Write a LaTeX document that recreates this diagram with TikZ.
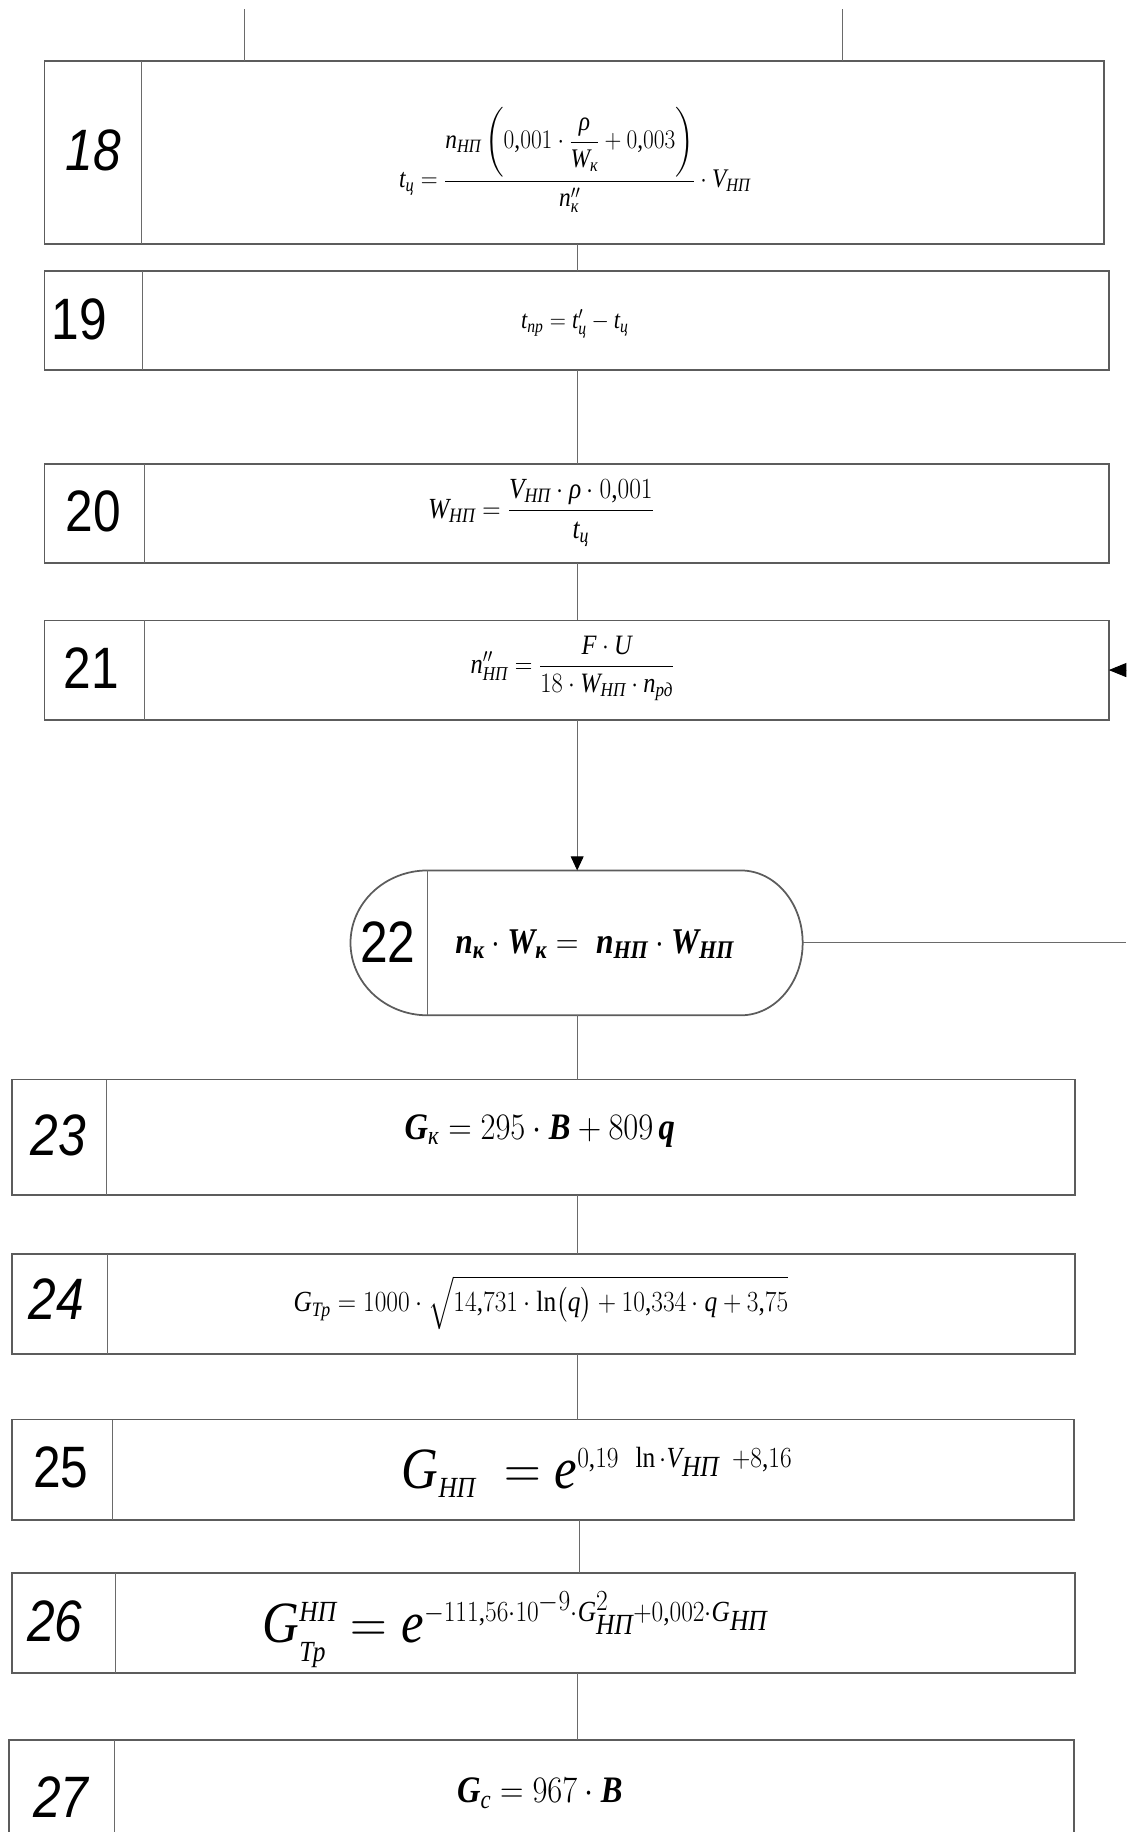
\RequirePackage{fix-cm}
\documentclass[tikz,border=0pt]{standalone}
\usepackage{amsmath}
\usepackage{graphicx}
\usepackage{fontspec}
\setmainfont{Liberation Serif}
\setsansfont{Liberation Sans}
\DeclareSymbolFont{lsrm}{TU}{\rmdefault}{m}{n}
\DeclareMathAlphabet{\mathit}{TU}{\rmdefault}{m}{it}
\DeclareMathSymbol{0}{\mathalpha}{lsrm}{`0}
\DeclareMathSymbol{1}{\mathalpha}{lsrm}{`1}
\DeclareMathSymbol{2}{\mathalpha}{lsrm}{`2}
\DeclareMathSymbol{3}{\mathalpha}{lsrm}{`3}
\DeclareMathSymbol{4}{\mathalpha}{lsrm}{`4}
\DeclareMathSymbol{5}{\mathalpha}{lsrm}{`5}
\DeclareMathSymbol{6}{\mathalpha}{lsrm}{`6}
\DeclareMathSymbol{7}{\mathalpha}{lsrm}{`7}
\DeclareMathSymbol{8}{\mathalpha}{lsrm}{`8}
\DeclareMathSymbol{9}{\mathalpha}{lsrm}{`9}
\DeclareMathSymbol{,}{\mathpunct}{lsrm}{`,}
\DeclareMathSymbol{=}{\mathrel}{lsrm}{`=}
\DeclareMathSymbol{+}{\mathbin}{lsrm}{`+}
\DeclareMathSymbol{(}{\mathopen}{lsrm}{`(}
\DeclareMathSymbol{)}{\mathclose}{lsrm}{`)}
\usetikzlibrary{arrows.meta}
\definecolor{bsFrame}{HTML}{5C5C5C}
\definecolor{bsLine}{HTML}{6A6A6A}
\newcommand{\itx}[1]{\text{\itshape #1}}
\newcommand{\bitx}[1]{\text{\bfseries\itshape #1}}
\newcommand{\blocknum}[1]{\scalebox{.85}[1]{#1}}
\newcommand{\fml}[1]{\scalebox{.87}[1]{$#1$}}
\tikzset{
  bs box/.style={draw=bsFrame, line width=1.5pt, outer sep=0pt, inner sep=0pt,
    anchor=north west},
  bs split/.style={draw=bsLine, line width=0.8pt},
  bs num/.style={font=\sffamily\fontsize{50}{54}\selectfont, inner sep=0pt},
  bs num it/.style={font=\sffamily\itshape\fontsize{50}{54}\selectfont, inner sep=0pt},
  bs formula/.style={inner sep=0pt, font=\fontsize{#1}{#1}\selectfont},
  bs link/.style={draw=bsLine, line width=0.8pt},
  bs arrow/.style={bs link, -{Triangle[length=12pt,width=11pt,color=black]}}
}

\begin{document}
\begin{tikzpicture}[x=1pt,y=1pt]
\useasboundingbox (0,0) rectangle (964,-1568);
\clip (0,0) rectangle (964,-1568);
\coordinate (ax) at (494,0);
\coordinate (in1) at (209,-8);
\coordinate (in2) at (721,-8);
\coordinate (in21) at (964,-573.5);
\coordinate (out22) at (964,-807);

\node[bs box, minimum width=907pt, minimum height=157pt] (b18) at (38,-52) {};
\node[bs box, minimum width=911pt, minimum height=85pt] (b19) at (38,-232) {};
\node[bs box, minimum width=911pt, minimum height=85pt] (b20) at (38,-397) {};
\node[bs box, minimum width=911pt, minimum height=85pt] (b21) at (38,-531) {};
\node[minimum width=268pt, minimum height=124pt, inner sep=0pt, outer sep=0pt] (t22) at (500,-807) {};
\node[bs box, minimum width=910pt, minimum height=99pt] (b23) at (10,-924) {};
\node[bs box, minimum width=910pt, minimum height=86pt] (b24) at (10,-1073) {};
\node[bs box, minimum width=909pt, minimum height=86pt] (b25) at (10,-1215) {};
\node[bs box, minimum width=910pt, minimum height=86pt] (b26) at (10,-1346) {};
\node[bs box, minimum width=911pt, minimum height=120pt] (b27) at (8,-1489) {};

\draw[bs box] (t22.north west) -- (t22.north east)
  arc[start angle=90, end angle=-90, x radius=53pt, y radius=62pt] -- (t22.south west)
  arc[start angle=270, end angle=90, x radius=66pt, y radius=62pt];
\coordinate (t22r) at ([xshift=53pt]t22.east);

\draw[bs split] ([xshift=83pt]b18.north west) -- ([xshift=83pt]b18.south west);
\draw[bs split] ([xshift=84pt]b19.north west) -- ([xshift=84pt]b19.south west);
\draw[bs split] ([xshift=86pt]b20.north west) -- ([xshift=86pt]b20.south west);
\draw[bs split] ([xshift=86pt]b21.north west) -- ([xshift=86pt]b21.south west);
\draw[bs split] (t22.north west) -- (t22.south west);
\draw[bs split] ([xshift=81pt]b23.north west) -- ([xshift=81pt]b23.south west);
\draw[bs split] ([xshift=82pt]b24.north west) -- ([xshift=82pt]b24.south west);
\draw[bs split] ([xshift=86pt]b25.north west) -- ([xshift=86pt]b25.south west);
\draw[bs split] ([xshift=89pt]b26.north west) -- ([xshift=89pt]b26.south west);
\draw[bs split] ([xshift=90pt]b27.north west) -- ([xshift=90pt]b27.south west);

\node[bs num it] (n18) at (80,-129) {\blocknum{18}};
\node[bs num] (n19) at (68,-273) {\blocknum{19}};
\node[bs num] (n20) at (80,-438) {\blocknum{20}};
\node[bs num] (n21) at (78,-572) {\blocknum{21}};
\node[bs num] (n22) at (332,-806) {\blocknum{22}};
\node[bs num it] (n23) at (50,-972) {\blocknum{23}};
\node[bs num it] (n24) at (48,-1112) {\blocknum{24}};
\node[bs num] (n25) at (52,-1256) {\blocknum{25}};
\node[bs num it] (n26) at (47,-1388) {\blocknum{26}};
\node[bs num it] (n27) at (52,-1538) {\blocknum{27}};

\node[bs formula=23] (f18) at (492,-137)
  {\fml{\mathit{t}_{\itx{ц}}=\dfrac{\mathit{n}_{\itx{НП}}\left(0{,}001\cdot\dfrac{\itx{ρ}}{\mathit{W}_{\itx{к}}}+0{,}003\right)}{\mathit{n}''_{\itx{к}}}\cdot\mathit{V}_{\itx{НП}}}};
\node[bs formula=22] (f19) at (492,-277)
  {\fml{\mathit{t}_{\itx{пр}}=\mathit{t}'_{\itx{ц}}-\mathit{t}_{\itx{ц}}}};
\node[bs formula=25] (f20) at (463,-439)
  {\fml{\mathit{W}_{\itx{НП}}=\dfrac{\mathit{V}_{\itx{НП}}\cdot\itx{ρ}\cdot0{,}001}{\mathit{t}_{\itx{ц}}}}};
\node[bs formula=24] (f21) at (490,-572)
  {\fml{\mathit{n}''_{\itx{НП}}=\dfrac{\mathit{F}\cdot\mathit{U}}{18\cdot\mathit{W}_{\itx{НП}}\cdot\mathit{n}_{\itx{рд}}}}};
\node[bs formula=31] (f22) at (509,-808)
  {\fml{\bitx{n}_{\bitx{к}}\cdot\bitx{W}_{\bitx{к}}=\;\bitx{n}_{\bitx{НП}}\cdot\bitx{W}_{\bitx{НП}}}};
\node[bs formula=32] (f23) at (462,-968)
  {\fml{\bitx{G}_{\itx{к}}=295\cdot\bitx{B}+809\,\bitx{q}}};
\node[bs formula=25] (f24) at (463,-1115)
  {\fml{\mathit{G}_{\itx{Тр}}=1000\cdot\sqrt{14{,}731\cdot\ln\bigl(\mathit{q}\bigr)+10{,}334\cdot\mathit{q}+3{,}75}}};
\node[bs formula=50] (f25) at (511,-1260)
  {\fml{\mathit{G}_{\scriptscriptstyle\itx{НП}}\;=\mathit{e}^{\scriptscriptstyle 0{,}19\ \ln\cdot\mathit{V}_{\itx{НП}}\ +8{,}16}}};
\node[bs formula=50] (f26) at (441,-1395)
  {\fml{\mathit{G}^{\scriptscriptstyle\itx{НП}}_{\raisebox{-4pt}{$\scriptscriptstyle\itx{Тр}$}}=\mathit{e}^{\scriptscriptstyle -111{,}56\cdot10^{-9}\cdot\mathit{G}^{2}_{\raisebox{-3pt}{$\scriptscriptstyle\itx{НП}$}}+0{,}002\cdot\mathit{G}_{\itx{НП}}}}};
\node[bs formula=32] (f27) at (462,-1535)
  {\fml{\bitx{G}_{\itx{c}}=967\cdot\bitx{B}}};

\draw[bs link] (in1) -- (in1 |- b18.north);
\draw[bs link] (in2) -- (in2 |- b18.north);
\draw[bs link] (b18.south -| ax) -- (b19.north -| ax);
\draw[bs link] (b19.south -| ax) -- (b20.north -| ax);
\draw[bs link] (b20.south -| ax) -- (b21.north -| ax);
\draw[bs arrow] (b21.south -| ax) -- (t22.north -| ax);
\draw[bs arrow, -{Triangle[length=15pt,width=12pt,color=black]}] (in21) -- (b21.east);
\draw[bs link] (t22r) -- (out22);
\draw[bs link] (t22.south -| ax) -- (b23.north -| ax);
\draw[bs link] (b23.south -| ax) -- (b24.north -| ax);
\draw[bs link] (b24.south -| ax) -- (b25.north -| ax);
\draw[bs link] ([xshift=2pt]b25.south -| ax) -- ([xshift=2pt]b26.north -| ax);
\draw[bs link] (b26.south -| ax) -- (b27.north -| ax);
\end{tikzpicture}
\end{document}
